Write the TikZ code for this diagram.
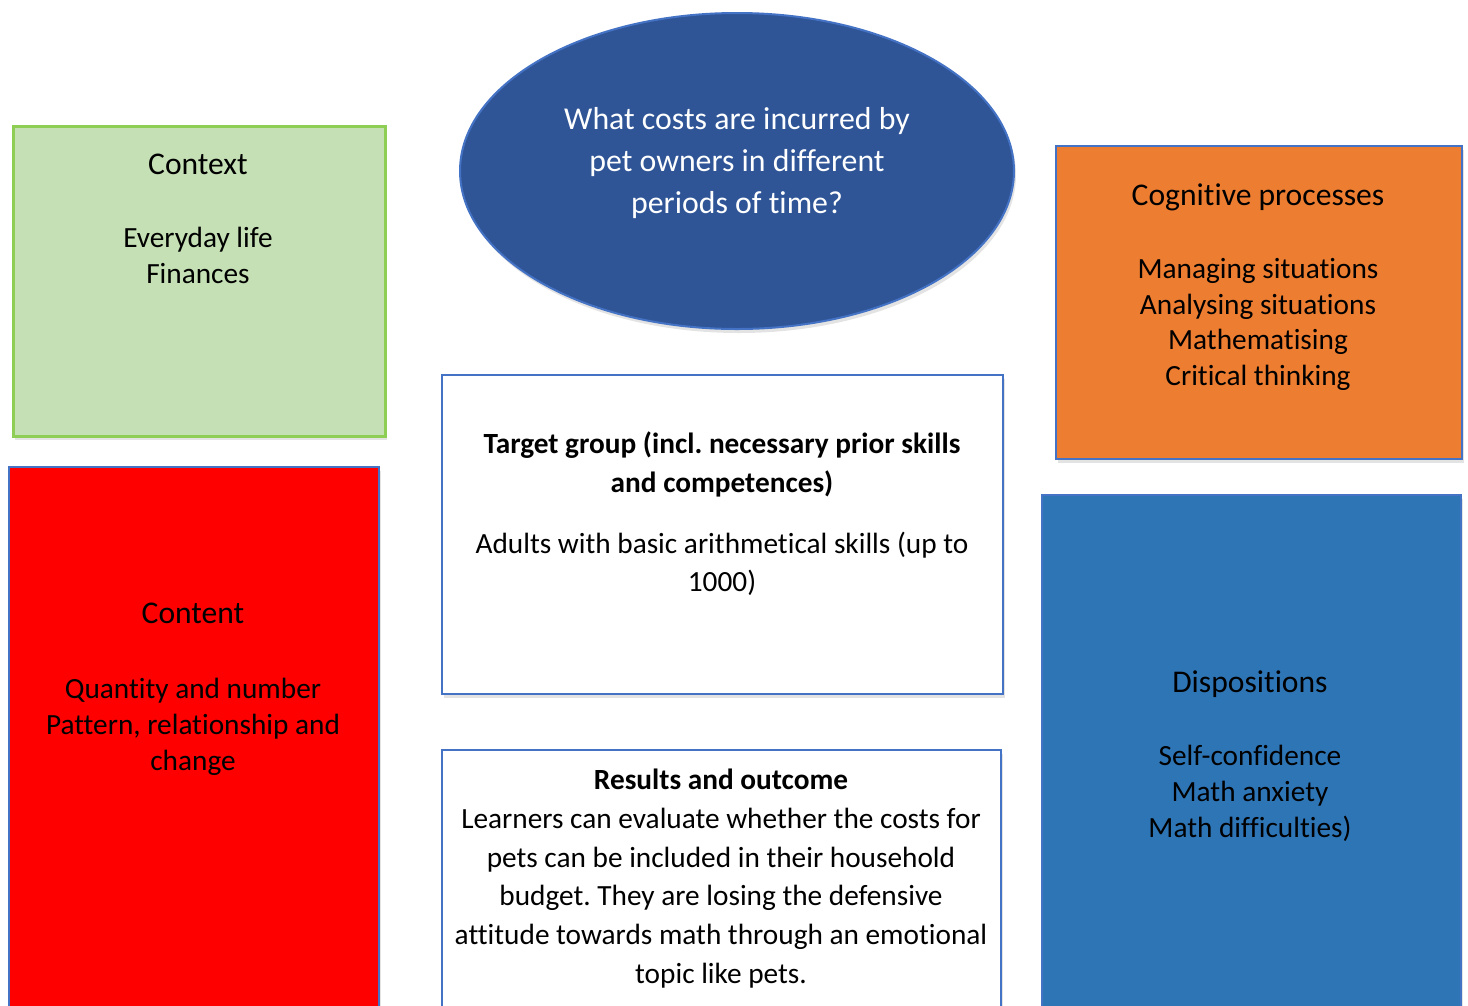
\documentclass[tikz,border=0pt]{standalone}
\usepackage{fontspec}
\setmainfont{Carlito}[Ligatures=NoCommon]
\usetikzlibrary{shapes.geometric,shadows}
\definecolor{ctxfill}{HTML}{C5E0B4}
\definecolor{ctxdraw}{HTML}{8FCE55}
\definecolor{ellfill}{HTML}{2F5597}
\definecolor{bordblue}{HTML}{4472C4}
\definecolor{cogfill}{HTML}{ED7D31}
\definecolor{confill}{HTML}{FF0000}
\definecolor{disfill}{HTML}{2E75B6}
\tikzset{
  shad/.style={drop shadow={opacity=0.22, shadow xshift=2pt, shadow yshift=-4pt}},
  box/.style={rectangle, draw=bordblue, line width=2.2pt, inner sep=0pt, anchor=north west, shad},
  txt/.style={align=center, inner sep=0pt, yshift=-2.5pt, font=\fontsize{29.3}{36}\selectfont},
  ttl/.style={align=center, inner sep=0pt, yshift=-2.5pt, font=\fontsize{31.6}{36}\selectfont},
}
\frenchspacing
\begin{document}
\begin{tikzpicture}[x=1pt, y=-1pt]
\clip (0,0) rectangle (1468,1005);
\fill[white] (0,0) rectangle (1468,1005);
% boxes
\node[box, draw=ctxdraw, line width=2.6pt, fill=ctxfill, minimum width=372pt, minimum height=310pt] (ctx) at (12,125) {};
\node[ellipse, draw=bordblue, line width=2pt, fill=ellfill, minimum width=554pt, minimum height=316pt, inner sep=0pt, shad] (ell) at (737,171) {};
\node[box, fill=cogfill, minimum width=406pt, minimum height=313pt] (cog) at (1055,145) {};
\node[box, fill=confill, minimum width=370pt, minimum height=560pt] (con) at (8,466) {};
\node[box, fill=white, minimum width=561pt, minimum height=319pt] (tgt) at (441,374) {};
\node[box, fill=white, minimum width=559pt, minimum height=280pt] (res) at (441,749) {};
\node[box, fill=disfill, line width=1.5pt, minimum width=419pt, minimum height=530pt] (dis) at (1041,494) {};
% texts
\node[ttl] (ctxt) at (198,162) {Context};
\node[txt] (ctxb) at (198,253) {Everyday life\\Finances};
\node[ttl, text=white, font=\fontsize{31.8}{42}\selectfont] (ellt) at (737,161) {What costs are incurred by\\pet owners in different\\periods of time?};
\node[ttl] (cogt) at (1258,195) {Cognitive processes};
\node[txt, font=\fontsize{29.3}{35.7}\selectfont] (cogb) at (1258,322) {Managing situations\\Analysing situations\\Mathematising\\Critical thinking};
\node[ttl] (cont) at (193,611) {Content};
\node[txt] (conb) at (193,724) {Quantity and number\\Pattern, relationship and\\change};
\node[txt, font=\bfseries\fontsize{29.3}{39}\selectfont] (tgtt) at (722,462) {Target group (incl. necessary prior skills\\and competences)};
\node[txt, font=\fontsize{29.3}{38}\selectfont] (tgtb) at (722,561) {Adults with basic arithmetical skills (up to\\1000)};
\node[txt, font=\fontsize{29.3}{38.8}\selectfont] (resb) at (721,876) {\textbf{Results and outcome}\\Learners can evaluate whether the costs for\\pets can be included in their household\\budget. They are losing the defensive\\attitude towards math through an emotional\\topic like pets.};
\node[ttl] (dist) at (1250,682) {Dispositions};
\node[txt] (disb) at (1250,791) {Self-confidence\\Math anxiety\\Math difficulties)};
\end{tikzpicture}
\end{document}
